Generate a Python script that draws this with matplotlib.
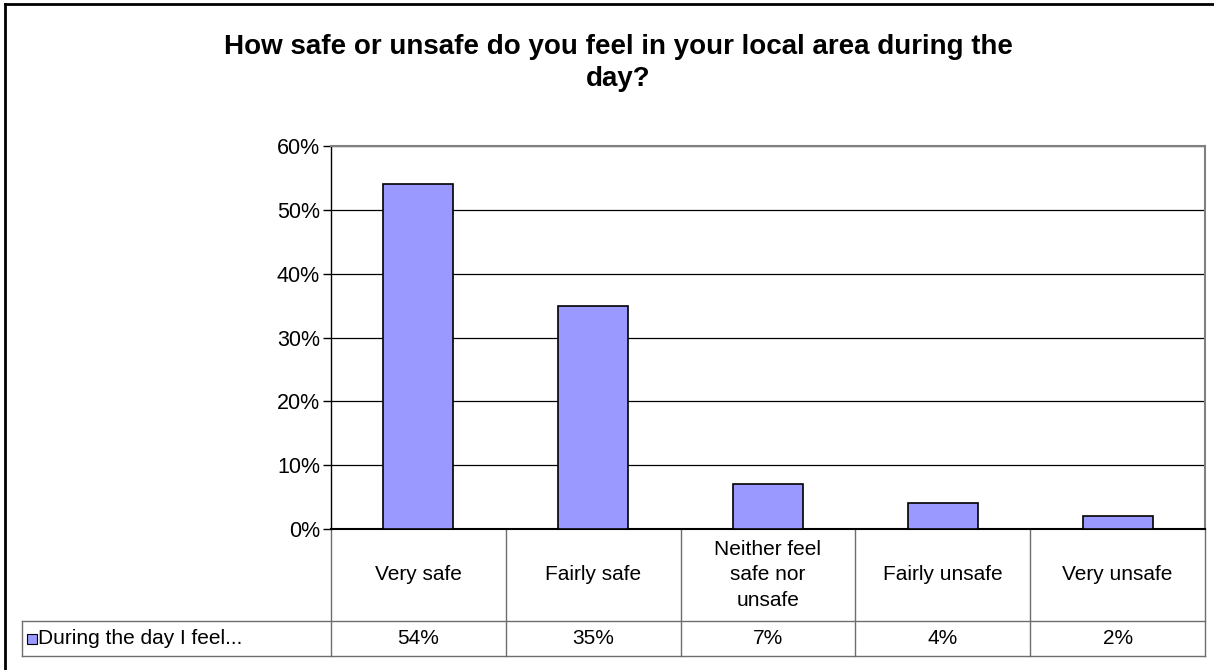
import matplotlib
matplotlib.use("Agg")
import matplotlib.pyplot as plt
from matplotlib.lines import Line2D
from matplotlib.patches import Rectangle
import matplotlib.transforms as mtransforms

categories = ["Very safe", "Fairly safe", "Neither feel\nsafe nor\nunsafe", "Fairly unsafe", "Very unsafe"]
values = [54, 35, 7, 4, 2]
value_labels = ["54%", "35%", "7%", "4%", "2%"]
yticks = [0, 10, 20, 30, 40, 50, 60]
ytick_labels = ["0%", "10%", "20%", "30%", "40%", "50%", "60%"]
series_name = "During the day I feel..."
title = "How safe or unsafe do you feel in your local area during the\nday?"

plt.rcParams['font.family'] = ['Liberation Sans', 'DejaVu Sans']

W, H = 1214, 670
fig = plt.figure(figsize=(W / 100, H / 100), dpi=100)
fig.patch.set_facecolor("white")

# plot area in pixels
x0, x1 = 331, 1205
ytop, ybot = 146, 529
ax = fig.add_axes([x0 / W, (H - ybot) / H, (x1 - x0) / W, (ybot - ytop) / H])

bar_color = "#9999FF"
xs = list(range(len(categories)))
ax.bar(xs, values, width=0.4, color=bar_color, edgecolor="black", linewidth=1.2, zorder=3)
ax.set_xlim(-0.5, len(categories) - 0.5)
ax.set_ylim(0, 60)
ax.set_yticks(yticks)
ax.set_yticklabels(ytick_labels, fontsize=15.5)
ax.tick_params(axis="y", direction="out", length=6, width=1, pad=2, colors="black")
ax.set_xticks([])
ax.grid(axis="y", color="black", linewidth=0.9, zorder=0)
ax.set_axisbelow(True)
for s in ["top", "right"]:
    ax.spines[s].set_color("#808080")
    ax.spines[s].set_linewidth(1.5)
ax.spines["left"].set_color("black")
ax.spines["left"].set_linewidth(1)
ax.spines["bottom"].set_color("black")
ax.spines["bottom"].set_linewidth(1.5)

# data table below axes: x in data coords, y in axes fraction
trans = mtransforms.blended_transform_factory(ax.transData, ax.transAxes)
ah = ybot - ytop
r1 = -(621 - ybot) / ah
r2 = -(656 - ybot) / ah
xl = (22 - x0) / ((x1 - x0) / len(categories)) - 0.5
gcol = "#6e6e6e"
lw = 1.0
kw = dict(transform=trans, color=gcol, linewidth=lw, clip_on=False)
# horizontal lines
ax.add_line(Line2D([xl, len(categories) - 0.5], [r1, r1], **kw))
ax.add_line(Line2D([xl, len(categories) - 0.5], [r2, r2], **kw))
# vertical lines
for i in range(len(categories) + 1):
    ax.add_line(Line2D([i - 0.5, i - 0.5], [0, r2], **kw))
ax.add_line(Line2D([xl, xl], [r1, r2], **kw))

for i, (c, v) in enumerate(zip(categories, value_labels)):
    ax.text(i, r1 / 2, c, transform=trans, ha="center", va="center", fontsize=15,
            linespacing=1.45, clip_on=False)
    ax.text(i, (r1 + r2) / 2, v, transform=trans, ha="center", va="center", fontsize=15,
            clip_on=False)

# legend key in table
ax.text(xl + 0.09, (r1 + r2) / 2, series_name, transform=trans, ha="left", va="center",
        fontsize=15, clip_on=False)
fig.patches.append(Rectangle((27 / W, (H - 644) / H), 10 / W, 10 / H, transform=fig.transFigure,
                             facecolor=bar_color, edgecolor="black", linewidth=0.8))

# title
fig.text(618 / W, (H - 63) / H, title, ha="center", va="center", fontsize=20,
         fontweight="bold", linespacing=1.3)

# outer chart frame (top and left visible)
fig.lines.append(Line2D([5 / W, 1.0], [(H - 4) / H, (H - 4) / H], transform=fig.transFigure,
                        color="black", linewidth=2))
fig.lines.append(Line2D([5 / W, 5 / W], [0, (H - 4) / H], transform=fig.transFigure,
                        color="black", linewidth=2))

fig.savefig("out.png", dpi=100, facecolor="white")
